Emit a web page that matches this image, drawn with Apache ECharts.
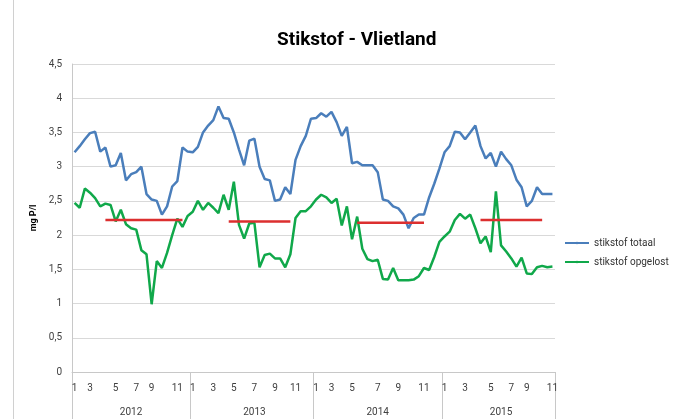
<!DOCTYPE html>
<html>
<head>
<meta charset="utf-8">
<script src="https://cdn.jsdelivr.net/npm/echarts@6/dist/echarts.min.js"></script>
<style>
html, body { margin: 0; padding: 0; background: #fff; }
#chart { width: 685px; height: 419px; }
</style>
</head>
<body>
<div id="chart"></div>
<script>
"use strict"

// sample months per year (about two samples a month, irregular)
const months2012 = [1,1,2,3,3,4,4,4,5,5,6,6,7,7,8,9,9,10,10,10,11,11,12];
const months2013 = [1,1,2,2,3,3,4,4,5,5,6,6,7,7,8,8,9,9,10,10,11,11,12,12];
const months2014 = [1,1,2,3,3,4,4,5,5,5,6,6,7,7,8,8,9,9,10,10,10,11,11,12,12];
const months2015 = [1,1,2,2,3,3,4,4,4,5,5,6,6,7,7,8,9,9,10,10,10,11];
const yearNames = ['2012', '2013', '2014', '2015'];

const totaal = [
    3.21, 3.30, 3.40, 3.49, 3.51, 3.22, 3.28, 3.00, 3.02, 3.20, 2.80, 2.89, 2.92, 3.00, 2.60, 2.52, 2.50, 2.30, 2.42, 2.71, 2.79, 3.28, 3.22,
    3.21, 3.29, 3.50, 3.60, 3.68, 3.88, 3.71, 3.70, 3.50, 3.25, 3.02, 3.38, 3.41, 3.00, 2.82, 2.80, 2.50, 2.52, 2.70, 2.60, 3.10, 3.30, 3.45, 3.70,
    3.71, 3.78, 3.73, 3.80, 3.65, 3.45, 3.58, 3.05, 3.07, 3.02, 3.02, 3.02, 2.92, 2.52, 2.50, 2.42, 2.39, 2.30, 2.10, 2.25, 2.30, 2.30, 2.55, 2.75, 2.97,
    3.21, 3.30, 3.51, 3.50, 3.40, 3.50, 3.60, 3.30, 3.12, 3.20, 3.00, 3.22, 3.11, 3.02, 2.81, 2.70, 2.42, 2.50, 2.70, 2.60, 2.60, 2.60
];
const opgelost = [
    2.47, 2.40, 2.68, 2.62, 2.54, 2.42, 2.46, 2.44, 2.20, 2.37, 2.16, 2.10, 2.08, 1.78, 1.72, 0.99, 1.62, 1.52, 1.74, 2.00, 2.24, 2.12, 2.28,
    2.34, 2.50, 2.37, 2.47, 2.40, 2.32, 2.59, 2.37, 2.78, 2.15, 1.95, 2.17, 2.18, 1.53, 1.71, 1.73, 1.66, 1.66, 1.53, 1.72, 2.25, 2.35, 2.35, 2.42,
    2.52, 2.59, 2.55, 2.47, 2.53, 2.14, 2.42, 1.94, 2.27, 1.80, 1.65, 1.62, 1.64, 1.36, 1.35, 1.52, 1.34, 1.34, 1.34, 1.35, 1.40, 1.52, 1.49, 1.68, 1.90,
    1.98, 2.05, 2.22, 2.31, 2.24, 2.30, 2.10, 1.88, 1.98, 1.75, 2.64, 1.85, 1.76, 1.66, 1.54, 1.67, 1.44, 1.43, 1.53, 1.55, 1.53, 1.54
];

// red season lines (sample index from / to, level)
const redFrom = [6, 30, 55, 79];
const redTo = [21, 42, 68, 91];
const redLevel = [2.22, 2.20, 2.18, 2.22];

const yTicks = [0, 4.5, 0.5]; // min, max, step

// build category axes
const perYear = [months2012, months2013, months2014, months2015];
let monthCats = [];
let yearCats = [];
let yearStart = [];
let yearMid = [];
perYear.forEach(function (m, k) {
    yearStart.push(monthCats.length);
    yearMid.push(Math.round(monthCats.length + (m.length - 1) / 2));
    m.forEach(function (v) {
        monthCats.push(String(v));
        yearCats.push(yearNames[k]);
    });
});

let redData = monthCats.map(function () { return null; });
for (let k = 0; k < redFrom.length; k++) {
    for (let i = redFrom[k]; i <= redTo[k]; i++) {
        redData[i] = redLevel[k];
    }
}

function showMonth(i, val) {
    const m = parseInt(val, 10);
    if (m % 2 === 0) return false;
    return yearStart.indexOf(i) >= 0 || monthCats[i - 1] !== val;
}

const font = 'Roboto, "Liberation Sans", sans-serif';
const chart = echarts.init(document.getElementById('chart'), null, { renderer: 'canvas' });

const option = {
    animation: false,
    backgroundColor: '#fff',
    textStyle: { fontFamily: font },
    title: {
        text: 'Stikstof - Vlietland',
        left: 272,
        top: 26,
        textStyle: { fontSize: 19, fontWeight: 'bold', color: '#000', fontFamily: font }
    },
    legend: {
        data: ['stikstof totaal', 'stikstof opgelost'],
        orient: 'vertical',
        left: 559,
        top: 233,
        itemWidth: 24,
        itemHeight: 3,
        itemGap: 9,
        textStyle: { fontSize: 10, color: '#333', fontFamily: font }
    },
    grid: {
        left: 72,
        right: 130,
        top: 64,
        bottom: 47
    },
    xAxis: [{
        type: 'category',
        data: monthCats,
        boundaryGap: true,
        axisLine: { lineStyle: { color: '#c8c8c8', width: 1 } },
        axisTick: {
            show: true,
            interval: function (i) { return yearStart.indexOf(i) >= 0; },
            length: 48,
            lineStyle: { color: '#c8c8c8' }
        },
        axisLabel: {
            interval: showMonth,
            margin: 11,
            fontSize: 10,
            color: '#404040',
            fontFamily: font
        },
        splitLine: { show: false }
    }, {
        type: 'category',
        data: yearCats,
        position: 'bottom',
        offset: 27,
        boundaryGap: true,
        axisLine: { show: false },
        axisTick: { show: false },
        axisLabel: {
            interval: function (i) { return yearMid.indexOf(i) >= 0; },
            fontSize: 10,
            color: '#404040',
            fontFamily: font
        },
        splitLine: { show: false }
    }],
    yAxis: {
        type: 'value',
        min: yTicks[0],
        max: yTicks[1],
        interval: yTicks[2],
        name: 'mg P/l',
        nameLocation: 'middle',
        nameRotate: 90,
        nameGap: 29,
        nameTextStyle: { fontSize: 9, fontWeight: 'bold', color: '#000', fontFamily: font },
        axisLine: { show: true, lineStyle: { color: '#c8c8c8' } },
        axisTick: { show: false },
        axisLabel: {
            fontSize: 10,
            color: '#404040',
            margin: 10,
            fontFamily: font,
            formatter: function (v) { return String(v).replace('.', ','); }
        },
        splitLine: { lineStyle: { color: '#d9d9d9', width: 1 } }
    },
    series: [{
        name: 'stikstof totaal',
        type: 'line',
        data: totaal,
        symbol: 'none',
        color: '#4a7ebb',
        lineStyle: { color: '#4a7ebb', width: 2.5 }
    }, {
        name: 'stikstof opgelost',
        type: 'line',
        data: opgelost,
        symbol: 'none',
        color: '#10a84a',
        lineStyle: { color: '#10a84a', width: 2.5 }
    }, {
        name: 'seizoen',
        type: 'line',
        data: redData,
        symbol: 'none',
        connectNulls: false,
        color: '#dc2f2f',
        lineStyle: { color: '#dc2f2f', width: 2.5 },
        z: 3
    }],
    graphic: [{
        type: 'line',
        shape: { x1: 13.5, y1: 0, x2: 13.5, y2: 419 },
        style: { stroke: '#d0d0d0', lineWidth: 1 }
    }]
};

chart.setOption(option);
console.log('chart ready');
</script>
</body>
</html>
